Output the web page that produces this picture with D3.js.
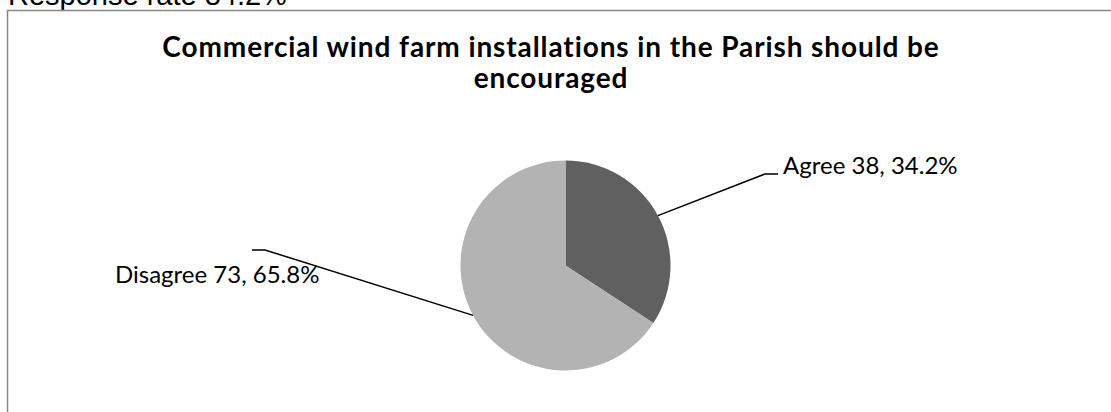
<!DOCTYPE html>
<html>
<head>
<meta charset="utf-8">
<script src="https://cdn.jsdelivr.net/npm/d3@7"></script>
<style>
  html, body { margin: 0; padding: 0; background: #fff; }
  svg { display: block; }
</style>
</head>
<body>
<svg id="chart" width="1111" height="412"></svg>
<script>
const categories = ["Agree", "Disagree"];
const counts = [38, 73];
const percents = ["34.2%", "65.8%"];
const colors = ["#606060", "#b3b3b3"];
const titleLines = ["Commercial wind farm installations in the Parish should be", "encouraged"];
const headerText = "Response rate 84.2%";

const svg = d3.select("#chart");
const W = 1111, H = 412;

// header text (cut off at top, as in the reference)
svg.append("text")
  .attr("x", 8).attr("y", 4.5)
  .attr("font-family", "Liberation Sans, Arial, sans-serif")
  .attr("font-size", 29)
  .attr("fill", "#000")
  .text(headerText);

// chart border (continues past right and bottom edges)
svg.append("rect")
  .attr("x", 7.5).attr("y", 10.5)
  .attr("width", W).attr("height", H)
  .attr("fill", "#fff")
  .attr("stroke", "#878787")
  .attr("stroke-width", 1.5);

// title
const title = svg.append("text")
  .attr("text-anchor", "middle")
  .attr("font-family", "Lato, 'Open Sans', sans-serif")
  .attr("font-weight", "bold")
  .attr("font-size", 28)
  .attr("letter-spacing", 0.9)
  .attr("fill", "#000");
titleLines.forEach((l, i) => {
  title.append("tspan").attr("x", 551).attr("y", 57 + i * 31).text(l);
});

// pie
const cx = 565.5, cy = 265.5, r = 105;
const data = categories.map((c, i) => ({ cat: c, n: counts[i], pct: percents[i], color: colors[i] }));
const pie = d3.pie().value(d => d.n).sort(null);
const arcs = pie(data);
const arc = d3.arc().innerRadius(0).outerRadius(r);
const g = svg.append("g").attr("transform", `translate(${cx},${cy})`);
g.selectAll("path").data(arcs).enter().append("path")
  .attr("d", arc)
  .attr("fill", d => d.data.color);

// labels with leader lines
const labelCfg = [
  { elbow: [765 - cx, 174 - cy], end: [778 - cx, 174 - cy], tx: 783 - cx, ty: 174 - cy },
  { elbow: [265 - cx, 250 - cy], end: [252 - cx, 250 - cy], tx: 115 - cx, ty: 283 - cy }
];
arcs.forEach((a, i) => {
  const mid = (a.startAngle + a.endAngle) / 2;
  const p0 = [r * Math.sin(mid), -r * Math.cos(mid)];
  const cfg = labelCfg[i];
  g.append("path")
    .attr("d", d3.line()([p0, cfg.elbow, cfg.end]))
    .attr("fill", "none")
    .attr("stroke", "#000")
    .attr("stroke-width", 1.5);
  g.append("text")
    .attr("x", cfg.tx).attr("y", cfg.ty)
    .attr("font-family", "Lato, 'Open Sans', sans-serif")
    .attr("font-size", 24)
    .attr("fill", "#000")
    .text(`${a.data.cat} ${a.data.n}, ${a.data.pct}`);
});
</script>
</body>
</html>
